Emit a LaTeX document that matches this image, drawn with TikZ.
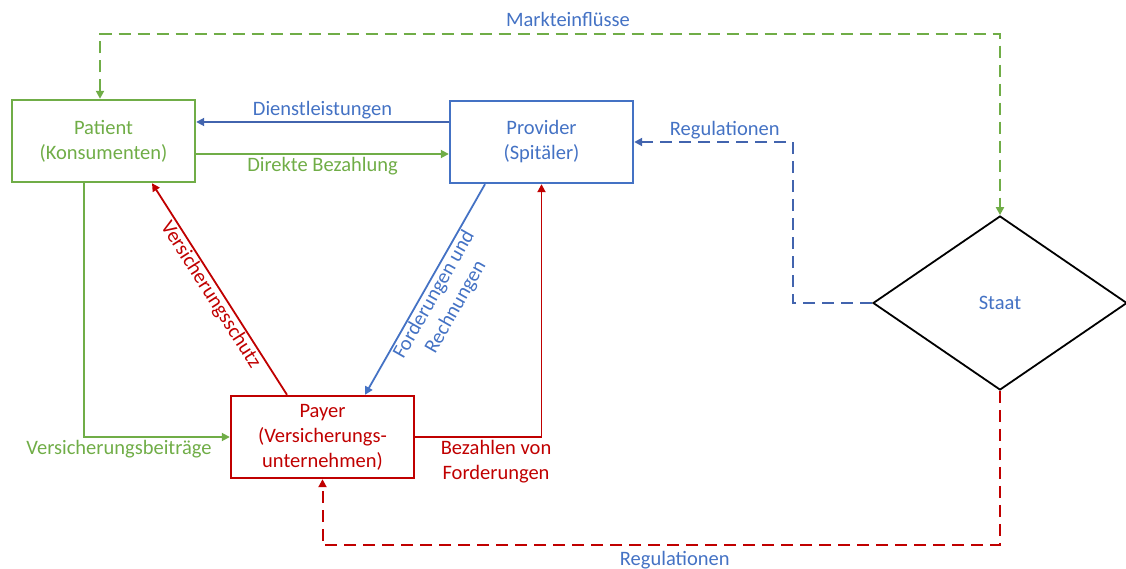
\documentclass[tikz,border=0pt]{standalone}
\usepackage{fontspec}
\setmainfont{Carlito}
\usetikzlibrary{arrows.meta,shapes.geometric}
\definecolor{txtblue}{HTML}{4472C4}
\definecolor{darkblue}{HTML}{4264AE}
\definecolor{mygreen}{HTML}{70AD47}
\definecolor{myred}{HTML}{C00000}
\begin{document}
\begin{tikzpicture}[x=1pt,y=-1pt,
  lbl/.style={font=\fontsize{20.5}{25}\selectfont, align=center, inner sep=2pt},
  party/.style={draw, line width=2.4pt, minimum width=183pt, minimum height=82pt,
    align=center, text=txtblue, font=\fontsize{20.5}{25}\selectfont},
  flow/.style={line width=1.8pt, -{Triangle[length=8pt,width=8pt]}},
  dflow/.style={flow, line width=2pt, dash pattern=on 12pt off 7pt},
]
\useasboundingbox (0,0) rectangle (1126,569);

% the three parties and the state
\node[party, mygreen] (Patient) at (103.5,141) {Patient\\(Konsumenten)};
\node[party, txtblue] (Provider) at (541.5,142) {Provider\\(Spitäler)};
\node[party, myred] (Payer) at (322.5,437) {Payer\\(Versicherungs-\\unternehmen)};
\node[diamond, draw, line width=1.8pt, minimum width=254pt, minimum height=174pt,
  inner sep=0pt, text=txtblue, font=\fontsize{20.5}{25}\selectfont] (Staat) at (1000,303) {Staat};

% corner points of the dashed routes
\coordinate (mkR) at (1000,34);
\coordinate (rb) at (793,142);
\coordinate (rr) at (1000,545);

% flows between patient and provider
\draw[flow, darkblue] (Provider.west |- 0,122) -- node[lbl, above, text=txtblue] {Dienstleistungen} (Patient.east |- 0,122);
\draw[flow, mygreen] (Patient.east |- 0,154) -- node[lbl, below, text=mygreen] {Direkte Bezahlung} (Provider.west |- 0,154);

% flows involving the payer
\draw[flow, mygreen] ([xshift=-19.5pt]Patient.south) |- node[lbl, pos=0.62, below, text=mygreen] {Versicherungsbeiträge} (Payer.west);
\draw[flow, myred] ([xshift=-35.5pt]Payer.north) -- node[lbl, sloped, below, inner sep=1pt, text=myred] {Versicherungsschutz} ([xshift=48.5pt]Patient.south);
\draw[flow, txtblue] ([xshift=-56.5pt]Provider.south) -- node[lbl, sloped, below, inner sep=1pt, text=txtblue] {Forderungen und\\Rechnungen} ([xshift=42.5pt]Payer.north);
\draw[flow, myred] (Payer.east) -| node[lbl, pos=0.32, below, text=myred] {Bezahlen von\\Forderungen} (Provider.south);

% influence of the state
\draw[dflow, mygreen, {Triangle[length=8pt,width=8pt]}-{Triangle[length=8pt,width=8pt]}]
  ([xshift=-3.5pt]Patient.north) |- node[lbl, pos=0.76, above, inner sep=6pt, text=txtblue] {Markteinflüsse} (mkR) -- (Staat.north);
\draw[dflow, darkblue] (Staat.west) -| (rb) -- node[lbl, pos=0.43, above, text=txtblue] {Regulationen} (Provider.east);
\draw[dflow, myred] (Staat.south) -- (rr) -| node[lbl, pos=0.24, below, inner sep=5pt, text=txtblue] {Regulationen} (Payer.south);
\end{tikzpicture}
\end{document}
